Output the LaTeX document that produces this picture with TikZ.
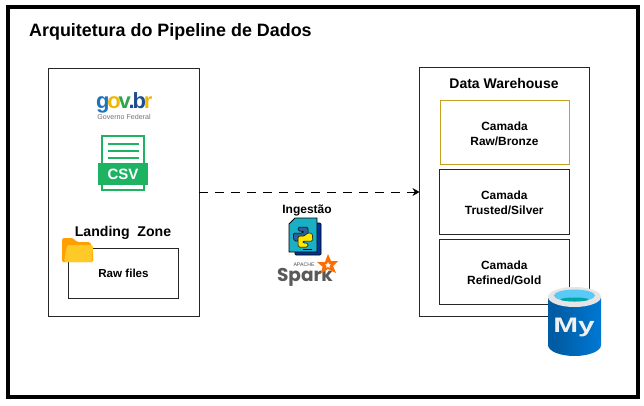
\documentclass[tikz,border=0pt]{standalone}
\usepackage{fontspec}
\setmainfont{Liberation Sans}
\newfontfamily\sparkfont{Poppins}
\usetikzlibrary{arrows.meta}
\definecolor{csvg}{HTML}{1DB362}
\definecolor{gold}{HTML}{C8A020}
\definecolor{myL}{HTML}{0069B8}
\definecolor{myD}{HTML}{005BA1}
\definecolor{myM}{HTML}{0078D4}
\definecolor{myR}{HTML}{0063B1}
\pgfdeclarehorizontalshading{cyl}{100bp}{color(0bp)=(myL); color(30bp)=(myD); color(75bp)=(myM); color(92bp)=(myM); color(100bp)=(myR)}
\tikzset{
 panel/.style={draw=black!85,line width=0.9pt,fill=white,outer sep=0pt},
 layer/.style={draw=black!85,line width=0.9pt,fill=white,outer sep=0pt,align=center,font=\bfseries\fontsize{11.9}{15}\selectfont,inner sep=0pt},
 lbl/.style={font=\bfseries,inner sep=0pt},
}
\newcommand{\toprl}{\rule{0pt}{11.5pt}}
\newcommand{\gk}{\kern-2.2pt}
\begin{document}
\begin{tikzpicture}[x=1pt,y=-1pt]
\useasboundingbox (0,0) rectangle (644,405);
\fill[white] (0,0) rectangle (644,405);
\draw[black,line width=4pt] (7.5,7) rectangle (638,397);
\node[lbl,anchor=west,font=\bfseries\fontsize{17.9}{20}\selectfont] (title) at (29,32) {Arquitetura do Pipeline de Dados};
\node[panel,minimum width=150.5,minimum height=247.5,anchor=north west,inner sep=0] (landing) at (48.5,68.5) {};
\node[panel,minimum width=169.5,minimum height=249,anchor=north west,inner sep=0] (dw) at (419.5,67.5) {};
\node[lbl,font=\bfseries\fontsize{14}{16}\selectfont] (dwt) at (504,83) {Data Warehouse};
\node[layer,draw=gold,line width=1pt,minimum width=129,minimum height=64.5,anchor=north west] (l1) at (440,100) {\toprl Camada\\Raw/Bronze};
\node[layer,minimum width=129.5,minimum height=64.5,anchor=north west] (l2) at (439.5,169.5) {\toprl Camada\\Trusted/Silver};
\node[layer,minimum width=129.5,minimum height=64.5,anchor=north west] (l3) at (439.5,239.5) {\toprl Camada\\Refined/Gold};
\node[lbl,font=\bfseries\fontsize{14.1}{16}\selectfont] (lz) at (123,233) {Landing\ \ Zone};
\node[panel,minimum width=110,minimum height=50,anchor=north west,inner sep=0,font=\bfseries\fontsize{11.6}{13}\selectfont] (raw) at (68.5,248.5) {Raw files};
\coordinate (arrowstart) at (199,192);
\draw[dash pattern=on 9pt off 7pt,line width=0.9pt,-{Stealth[length=7pt,width=8pt]}] (landing.east |- arrowstart) -- (dw.west |- arrowstart);
\node[lbl,font=\bfseries\fontsize{12}{14}\selectfont] (ing) at (307,210.5) {Ingestão};
% gov.br
\node[inner sep=0,anchor=base west,font=\bfseries\fontsize{22}{22}\selectfont] (gov) at (96,108) {\textcolor[HTML]{1E73BE}{g}\gk\textcolor[HTML]{F2B705}{o}\gk\textcolor[HTML]{2EA44F}{v}\gk\textcolor[HTML]{1F4E8C}{.}\gk\textcolor[HTML]{1F4E8C}{b}\gk\textcolor[HTML]{F2B705}{r}};
\node[inner sep=0,font=\fontsize{7.1}{8}\selectfont,text=black!55] (govf) at (124,117) {Governo Federal};
% csv
\draw[csvg,line width=1.4pt,fill=white] (102,136) rectangle (144,190);
\foreach \yy in {144,151,158}{\draw[csvg,line width=1.4pt] (108,\yy) -- (139,\yy);}
\node[fill=csvg,text=white,font=\bfseries\fontsize{15}{15}\selectfont,minimum width=50,minimum height=22,inner sep=0] (csv) at (123,174) {CSV};
% folder
\definecolor{foldB}{HTML}{FFA000}
\definecolor{foldF}{HTML}{FFCA28}
\fill[foldB,rounded corners=1.5pt] (62,262) -- (62,238) -- (73,238) -- (77,242) -- (90,242) -- (93,250) -- (93,262) -- cycle;
\fill[foldF,rounded corners=1.5pt] (64,262) -- (67,245) -- (93,245) -- (92,262) -- cycle;
% python file
\fill[blue!50!black!80!cyan,draw=black,line width=.6pt,rounded corners=1pt] (295,223) -- (321,223) -- (321,255) -- (295,255) -- cycle;
\definecolor{pyDoc}{HTML}{1AAFC4}
\definecolor{pyBlue}{HTML}{2B5F9E}
\draw[black,fill=pyDoc,line width=.8pt] (295,218) -- (317,218) -- (317,252) -- (289,252) -- (289,224) -- cycle;
\draw[black,line width=.5pt,fill=pyBlue,rounded corners=1.5pt] (298,227) -- (308,227) -- (308,238) -- (301,238) -- (299,241) -- (294,241) -- (293,233) -- (303,233) -- (303,231) -- (298,231) -- cycle;
\draw[black,line width=.5pt,fill=yellow!90!orange,rounded corners=1.5pt] (308,247) -- (298,247) -- (298,236) -- (305,236) -- (307,233) -- (312,233) -- (313,241) -- (303,241) -- (303,243) -- (308,243) -- cycle;
\draw[black,line width=.7pt] (303,249) -- (312,249);
% spark
\node[inner sep=0,font=\sparkfont\bfseries\fontsize{18.5}{19}\selectfont,text=black!65,anchor=base] (spark) at (305,281) {Spark};
\node[inner sep=0,font=\fontsize{5.2}{5.4}\selectfont,text=black!70] (apache) at (304,264.5) {APACHE};
\fill[orange!85!red,even odd rule] (328,254) -- (331,261) -- (338,261) -- (333,266) -- (336,273) -- (328,269) -- (320,274) -- (323,267) -- (317,262) -- (325,262) -- cycle
  (328,261.5) -- (329,264) -- (331,264.5) -- (329.5,266) -- (330,268) -- (328,267) -- (326,268) -- (326.5,266) -- (325,264.5) -- (327,264) -- cycle;
% mysql cylinder
\shade[shading=cyl] (548,298) -- (548,345) arc[start angle=180,end angle=0,x radius=26.5,y radius=11] -- (601,298) -- cycle;
\fill[black!10] (574.5,297) ellipse[x radius=26.5,y radius=10];
\fill[cyan!65] (574.5,295.5) ellipse[x radius=20.5,y radius=6];
\fill[teal!70!cyan] (574.5,299.5) ellipse[x radius=14,y radius=2];
\node[inner sep=0,anchor=base,font=\bfseries\fontsize{21}{21}\selectfont,text=black!6] (my) at (574,332) {\scalebox{1.42}[1]{My}};
\end{tikzpicture}
\end{document}
